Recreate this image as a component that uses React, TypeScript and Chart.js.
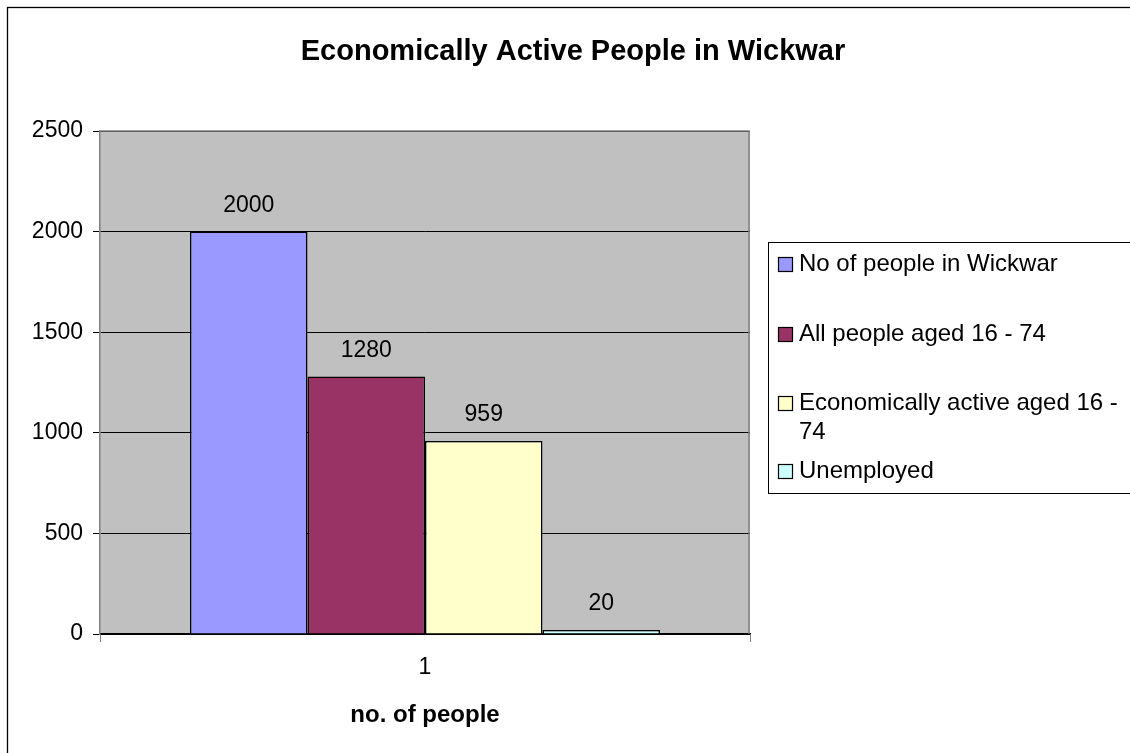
import React, { useEffect, useRef } from "react";
import { Chart, registerables } from "chart.js";

Chart.register(...registerables);

const title = "Economically Active People in Wickwar";
const categories = ["1"];
const seriesLabels = [
  "No of people in Wickwar",
  "All people aged 16 - 74",
  "Economically active aged 16 - 74",
  "Unemployed",
];
const legendLines = [
  ["No of people in Wickwar"],
  ["All people aged 16 - 74"],
  ["Economically active aged 16 -", "74"],
  ["Unemployed"],
];
const seriesValues = [2000, 1280, 959, 20];
const seriesColors = ["#9999ff", "#993366", "#ffffcc", "#ccffff"];
const yTicks = [0, 500, 1000, 1500, 2000, 2500];
const xTitle = "no. of people";

const FONT = "'Liberation Sans', Arial, sans-serif";

const framePlugin = {
  id: "framePlugin",
  beforeDraw(chart: any) {
    const { ctx, chartArea } = chart;
    ctx.save();
    ctx.fillStyle = "#ffffff";
    ctx.fillRect(0, 0, chart.width, chart.height);
    ctx.strokeStyle = "#000000";
    ctx.lineWidth = 1.3;
    ctx.strokeRect(7.5, 7.5, 1140, 760);
    ctx.fillStyle = "#c0c0c0";
    ctx.fillRect(chartArea.left, chartArea.top, chartArea.right - chartArea.left, chartArea.bottom - chartArea.top);
    // title
    ctx.fillStyle = "#000";
    ctx.font = `bold 29px ${FONT}`;
    ctx.textAlign = "center";
    ctx.textBaseline = "alphabetic";
    ctx.fillText(title, 573, 60);
    // x axis title
    ctx.font = `bold 24px ${FONT}`;
    ctx.fillText(xTitle, (chartArea.left + chartArea.right) / 2, 722);
    ctx.restore();
  },
  afterDraw(chart: any) {
    const { ctx, chartArea } = chart;
    ctx.save();
    ctx.strokeStyle = "#808080";
    ctx.lineWidth = 1.5;
    ctx.beginPath();
    ctx.moveTo(chartArea.left, chartArea.top);
    ctx.lineTo(chartArea.right - 1, chartArea.top);
    ctx.lineTo(chartArea.right - 1, chartArea.bottom);
    ctx.stroke();
    // value labels
    ctx.fillStyle = "#000";
    ctx.font = `23px ${FONT}`;
    ctx.textAlign = "center";
    ctx.textBaseline = "middle";
    chart.data.datasets.forEach((ds: any, i: number) => {
      const meta = chart.getDatasetMeta(i);
      meta.data.forEach((bar: any, j: number) => {
        ctx.fillText(String(ds.data[j]), bar.x, bar.y - 26);
      });
    });
    // legend
    const lx = 768, ly = 242, lw = 400, lh = 251;
    ctx.fillStyle = "#fff";
    ctx.fillRect(lx, ly, lw, lh);
    ctx.strokeStyle = "#000";
    ctx.lineWidth = 1;
    ctx.strokeRect(lx + 0.5, ly + 0.5, lw, lh);
    const itemY = [264, 334, 403, 471];
    ctx.font = `24px ${FONT}`;
    ctx.textAlign = "left";
    legendLines.forEach((lines, i) => {
      const y = itemY[i];
      ctx.fillStyle = seriesColors[i];
      ctx.fillRect(778, y - 7, 15, 15);
      ctx.strokeStyle = "#000";
      ctx.lineWidth = 1.2;
      ctx.strokeRect(778.5, y - 6.5, 14, 14);
      ctx.fillStyle = "#000";
      lines.forEach((t, k) => {
        ctx.fillText(t, 799, y + k * 29);
      });
    });
    ctx.restore();
  },
};

export default function App() {
  const ref = useRef<HTMLCanvasElement>(null);
  useEffect(() => {
    document.body.style.margin = "0";
    const chart = new Chart(ref.current!, {
      type: "bar",
      data: {
        labels: categories,
        datasets: seriesLabels.map((label, i) => ({
          label,
          data: [seriesValues[i]],
          backgroundColor: seriesColors[i],
          borderColor: "#000000",
          borderWidth: 1.5,
          barPercentage: 1,
          categoryPercentage: 0.723,
        })),
      },
      options: {
        responsive: false,
        animation: false,
        layout: { padding: { left: 0, right: 380, top: 131, bottom: 0 } },
        plugins: {
          legend: { display: false },
          tooltip: { enabled: false },
          title: { display: false },
        },
        scales: {
          x: {
            ticks: { color: "#000", font: { family: FONT, size: 23 }, padding: 12 },
            grid: { display: true, drawOnChartArea: false, color: "#808080", tickLength: 8, offset: true },
            border: { color: "#000", width: 1.5 },
            afterFit: (axis: any) => {
              axis.height = 119;
            },
          },
          y: {
            min: 0,
            max: 2500,
            afterBuildTicks: (axis: any) => {
              axis.ticks = yTicks.map((v) => ({ value: v }));
            },
            afterFit: (axis: any) => {
              axis.width = 100;
            },
            ticks: {
              color: "#000",
              font: { family: FONT, size: 23 },
              padding: 10,
              callback: (v: any) => String(v),
            },
            grid: { color: "#000", lineWidth: 1, tickLength: 7 },
            border: { color: "#808080", width: 1.5 },
          },
        },
      },
      plugins: [framePlugin],
    });
    return () => chart.destroy();
  }, []);
  return (
    <div style={{ position: "absolute", left: 0, top: 0 }}>
      <canvas ref={ref} width={1130} height={753} />
    </div>
  );
}
